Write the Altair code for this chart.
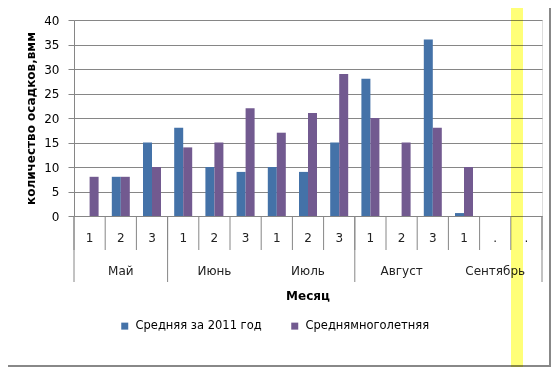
import altair as alt
import pandas as pd

# ---- data ----
slots = list(range(15))
decade_labels = ["1", "2", "3", "1", "2", "3", "1", "2", "3", "1", "2", "3", "1", ".", "."]
months = ["Май", "Июнь", "Июль", "Август", "Сентябрь"]
month_center_slot = [1, 4, 7, 10, 13]
series_names = ["Средняя за 2011 год", "Среднямноголетняя"]
avg_2011 = [0, 8, 15, 18, 10, 9, 10, 9, 15, 28, 0, 36, 0.6, None, None]
long_term = [8, 8, 10, 14, 15, 22, 17, 21, 29, 20, 15, 18, 10, None, None]
short_bounds = list(range(16))
long_bounds = [0, 3, 9, 15]
y_ticks = [0, 5, 10, 15, 20, 25, 30, 35, 40]
colors = ["#4472a8", "#725a90"]

FONT = "DejaVu Sans"
GRAY = "#868686"

rows = []
for s, v in zip(slots, avg_2011):
    if v is not None:
        rows.append({"slot": s, "series": series_names[0], "value": v})
for s, v in zip(slots, long_term):
    if v is not None:
        rows.append({"slot": s, "series": series_names[1], "value": v})
bars_df = pd.DataFrame(rows)

xband = alt.Scale(domain=slots, paddingInner=0, paddingOuter=0)
yscale = alt.Scale(domain=[0, 40], nice=False)

bars = alt.Chart(bars_df).mark_bar().encode(
    x=alt.X("slot:O", scale=xband, axis=None),
    xOffset=alt.XOffset("series:N", scale=alt.Scale(domain=series_names, paddingInner=0, paddingOuter=0.733)),
    y=alt.Y("value:Q", scale=yscale, axis=alt.Axis(
        values=y_ticks, grid=True, gridColor=GRAY, domainColor=GRAY, tickColor=GRAY,
        tickSize=6, labelPadding=9, labelFont=FONT, labelFontSize=12, labelColor="black",
        title="количество осадков,вмм", titleFont=FONT, titleFontSize=12,
        titleFontWeight="bold", titleColor="black", titlePadding=6)),
    color=alt.Color("series:N", scale=alt.Scale(domain=series_names, range=colors),
                    legend=alt.Legend(orient="none", legendX=45, legendY=300, direction="horizontal",
                                      title=None, symbolType="square", symbolSize=49,
                                      symbolStrokeWidth=0, labelFont=FONT, labelFontSize=11.5,
                                      labelColor="black", columnPadding=27, labelOffset=5)),
)

dec_df = pd.DataFrame({"slot": slots, "label": decade_labels})
dec_text = alt.Chart(dec_df).mark_text(font=FONT, fontSize=12, color="#222", baseline="middle").encode(
    x=alt.X("slot:O", scale=xband, axis=None),
    y=alt.value(218),
    text="label:N",
)

mon_df = pd.DataFrame({"slot": month_center_slot, "label": months})
mon_text = alt.Chart(mon_df).mark_text(font=FONT, fontSize=12, color="#222", baseline="middle").encode(
    x=alt.X("slot:O", scale=xband, axis=None),
    y=alt.value(251),
    text="label:N",
)

bscale = alt.Scale(domain=[0, 15], nice=False, zero=False)
short_df = pd.DataFrame({"b": short_bounds})
short_rules = alt.Chart(short_df).mark_rule(color=GRAY, strokeWidth=1).encode(
    x=alt.X("b:Q", scale=bscale, axis=None),
    y=alt.value(196), y2=alt.value(230),
)
long_df = pd.DataFrame({"b": long_bounds})
long_rules = alt.Chart(long_df).mark_rule(color=GRAY, strokeWidth=1).encode(
    x=alt.X("b:Q", scale=bscale, axis=None),
    y=alt.value(196), y2=alt.value(262),
)

one = pd.DataFrame({"t": ["Месяц"]})
x_title = alt.Chart(one).mark_text(font=FONT, fontSize=12, fontWeight="bold", color="black",
                                   baseline="middle").encode(
    x=alt.value(234), y=alt.value(276), text="t:N")

border = alt.Chart(one).mark_rect(fill=None, stroke="#888888", strokeWidth=2).encode(
    x=alt.value(-80), x2=alt.value(476), y=alt.value(-30), y2=alt.value(346))

band = alt.Chart(one).mark_rect(fill="#ffff78", blend="multiply").encode(
    x=alt.value(437), x2=alt.value(449), y=alt.value(-30), y2=alt.value(348))

chart = alt.layer(
    short_rules, long_rules, bars, dec_text, mon_text, x_title, border, band
).resolve_scale(x="independent").properties(
    width=468, height=196,
    autosize=alt.AutoSizeParams(type="none"),
    padding={"left": 66, "top": 12, "right": 9, "bottom": 151},
).configure_view(stroke=None).configure(background="white")

chart.save("out.html", embed_options={"renderer": "svg", "actions": False})
